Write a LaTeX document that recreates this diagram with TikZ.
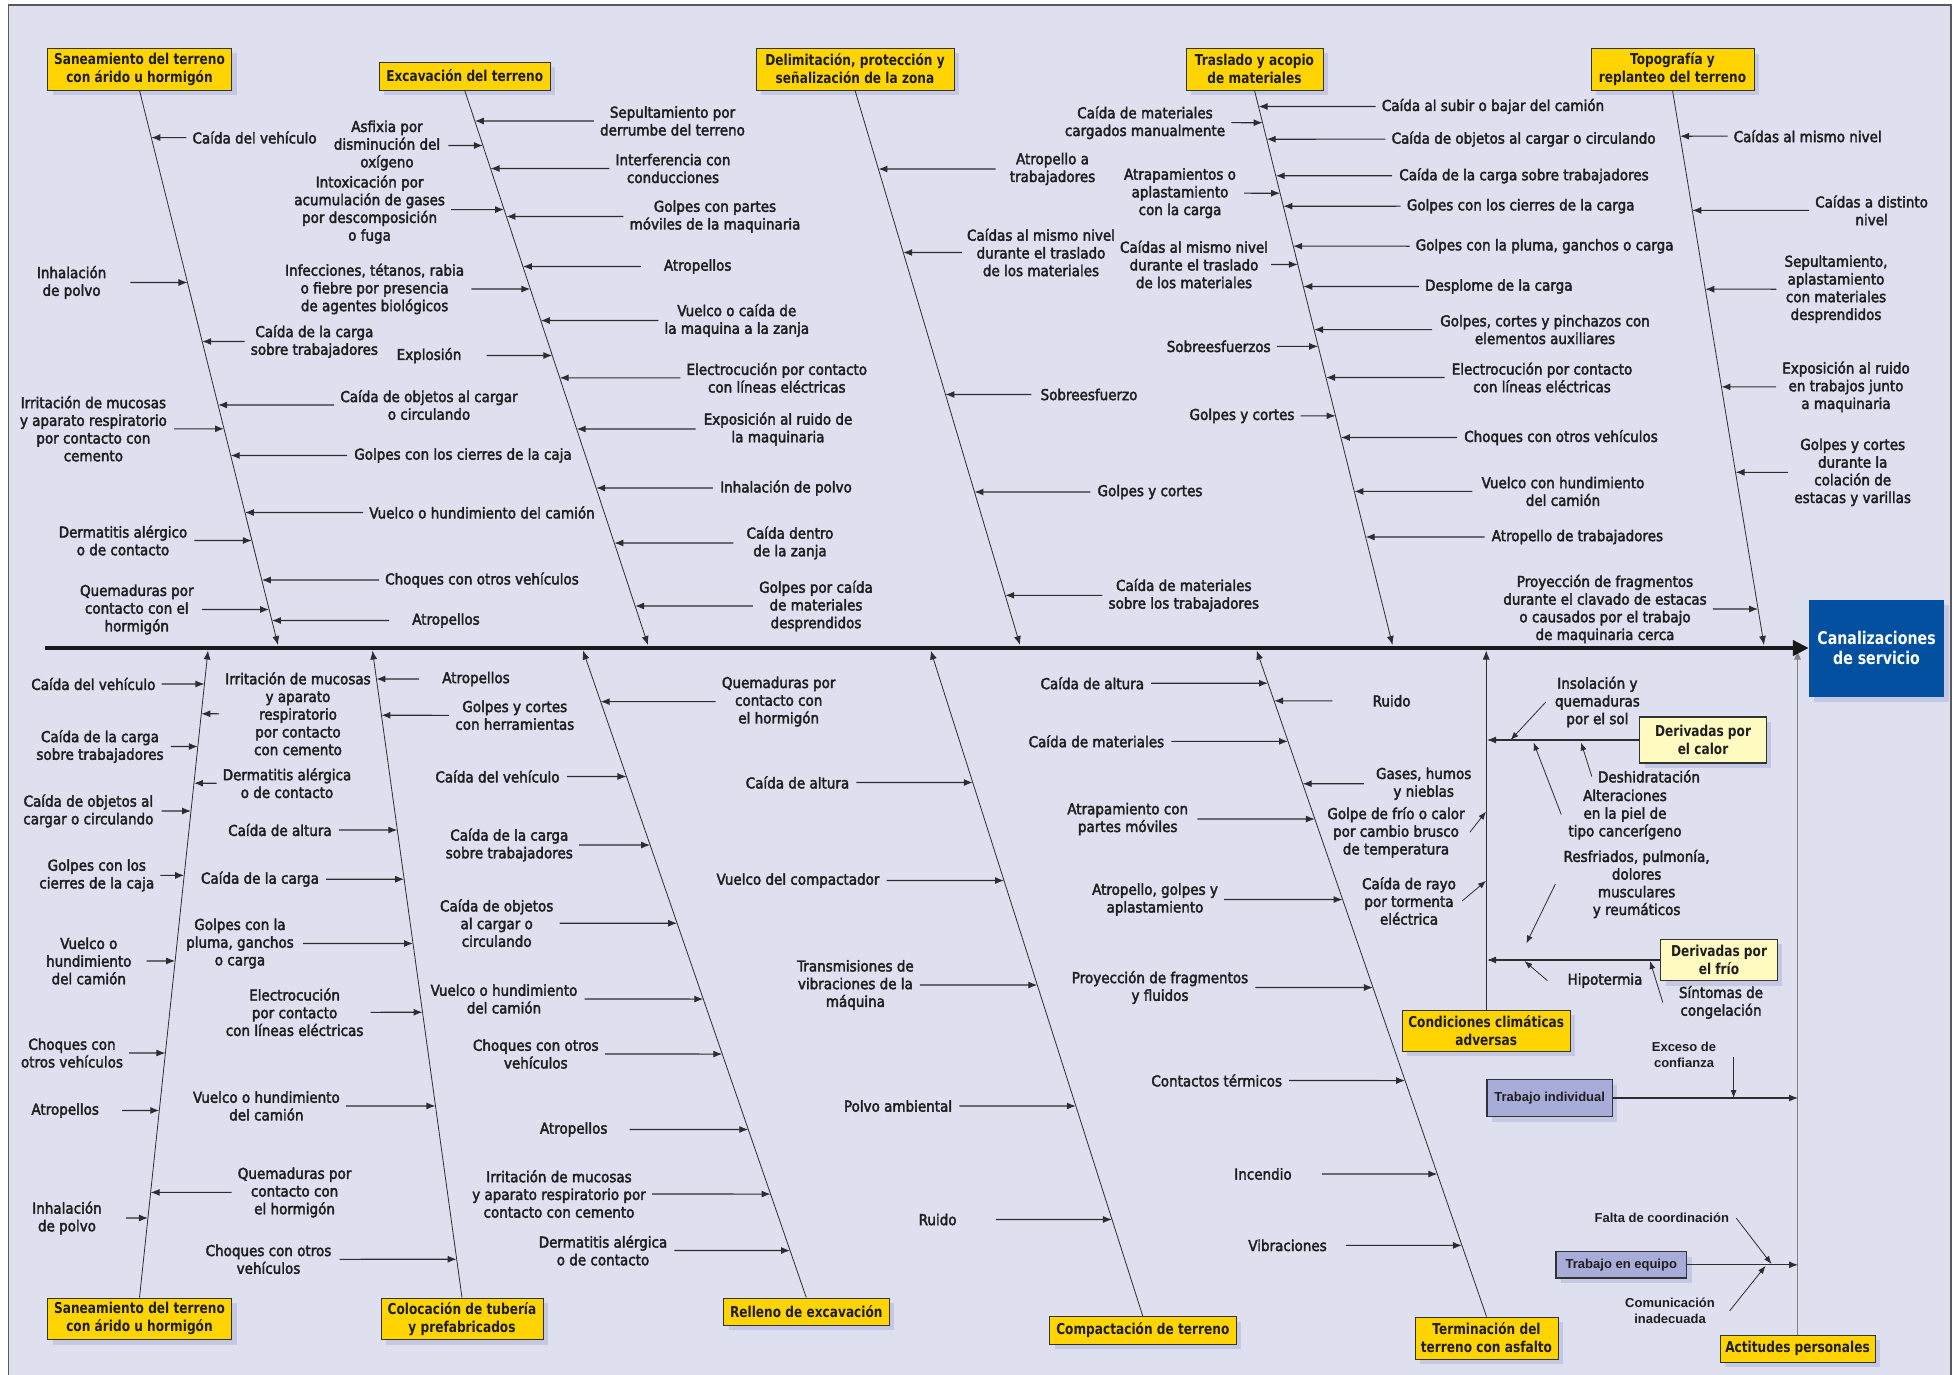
\documentclass[tikz,border=0pt]{standalone}
\usepackage{fontspec}
\setmainfont{DejaVu Sans}[FakeStretch=0.9,FakeBold=2.5]
\newfontfamily\ttlfont{DejaVu Sans}[FakeStretch=0.81]
\newfontfamily\smlfont{Liberation Sans}
\usetikzlibrary{arrows.meta,shadows}
\definecolor{bgc}{RGB}{222,224,240}
\definecolor{yel}{RGB}{255,212,0}
\definecolor{lyel}{RGB}{255,250,192}
\definecolor{lav}{RGB}{168,172,216}
\definecolor{blu}{RGB}{4,80,160}
\definecolor{shd}{RGB}{196,200,228}
\definecolor{txtc}{RGB}{30,30,30}
\definecolor{linec}{RGB}{45,45,45}
\definecolor{framec}{RGB}{90,90,90}
\tikzset{
  lbl/.style={font=\fontsize{15}{17.7}\selectfont, align=center, inner sep=0pt, text=txtc},
  sml/.style={font=\smlfont\bfseries\fontsize{13}{15.8}\selectfont, align=center, inner sep=0pt, text=txtc},
  cau/.style={draw=linec, line width=1.1pt, -{Latex[length=9pt,width=7pt]}},
  thinarr/.style={draw=linec, line width=0.8pt, -{Latex[length=8pt,width=6pt]}},
  bonel/.style={draw=linec, line width=0.8pt, -{Latex[length=9pt,width=7pt]}},
  sombra/.style={general shadow={fill=shd, shadow xshift=5pt, shadow yshift=-5pt}},
  ybox/.style={sombra, draw=black!80, line width=0.8pt, fill=yel, text=txtc, font=\ttlfont\bfseries\fontsize{15}{18}\selectfont, align=center, inner sep=0pt},
  lybox/.style={ybox, fill=lyel, line width=1.2pt},
  pbox/.style={sombra, draw=black!80, line width=1.3pt, fill=lav, text=txtc, font=\smlfont\bfseries\fontsize{13}{15.8}\selectfont, inner sep=0pt},
  bbox/.style={sombra, fill=blu, text=white, font=\ttlfont\bfseries\fontsize{17.5}{20.8}\selectfont, align=center, inner sep=0pt},
  spinel/.style={draw=black!90, line width=4.5pt, -{Triangle[length=16pt,width=15pt]}}
}
\newcommand\causeL[6]{%
  \node[lbl] (#1) at (#2,#3) {#4};
  \draw[cau] ([xshift=-#6pt]#1.west) -- (intersection cs:first line={(#5a)--(#5b)},second line={(#1.west)--(#1.east)});}
\newcommand\causeR[6]{%
  \node[lbl] (#1) at (#2,#3) {#4};
  \draw[cau] ([xshift=#6pt]#1.east) -- (intersection cs:first line={(#5a)--(#5b)},second line={(#1.west)--(#1.east)});}
\begin{document}
\begin{tikzpicture}[x=1pt,y=-1pt]
\useasboundingbox (0,0) rectangle (1959,1375);
\fill[white] (0,0) rectangle (1959,1375);
\filldraw[fill=bgc, draw=framec, line width=1.6pt] (8.5,5) rectangle (1951,1385);

% ---------- category boxes ----------
\node[ybox, minimum width=184pt, minimum height=41.6pt] (t1) at (139.5,69.2) {Saneamiento del terreno\\con árido u hormigón};
\node[ybox, minimum width=171.5pt, minimum height=28pt] (t2) at (464.7,76) {Excavación del terreno};
\node[ybox, minimum width=198pt, minimum height=42pt] (t3) at (855,69) {Delimitación, protección y\\señalización de la zona};
\node[ybox, minimum width=137pt, minimum height=42pt] (t4) at (1254.5,69) {Traslado y acopio\\de materiales};
\node[ybox, minimum width=163pt, minimum height=41.4pt] (t5) at (1672.5,69.3) {Topografía y\\replanteo del terreno};
\node[ybox, minimum width=184pt, minimum height=41.5pt] (u1) at (139.5,1318.8) {Saneamiento del terreno\\con árido u hormigón};
\node[ybox, minimum width=162pt, minimum height=41.5pt] (u2) at (462,1318.8) {Colocación de tubería\\y prefabricados};
\node[ybox, minimum width=165.4pt, minimum height=27pt] (u3) at (806.3,1311.5) {Relleno de excavación};
\node[ybox, minimum width=186.4pt, minimum height=27.5pt] (u4) at (1142.8,1330.3) {Compactación de terreno};
\node[ybox, minimum width=143pt, minimum height=42pt] (u5) at (1486.5,1338) {Terminación del\\terreno con asfalto};
\node[ybox, minimum width=168.5pt, minimum height=41pt] (u6) at (1486.2,1030.5) {Condiciones climáticas\\adversas};
\node[ybox, minimum width=155pt, minimum height=27pt] (u7) at (1797.5,1348.5) {Actitudes personales};
\node[bbox, minimum width=135pt, minimum height=97pt] (blue) at (1876.5,648) {Canalizaciones\\de servicio};

% ---------- bones ----------
\coordinate (T1a) at (t1.south); \coordinate (T1b) at (278,645);
\coordinate (T2a) at (t2.south); \coordinate (T2b) at (648,645);
\coordinate (T3a) at (t3.south); \coordinate (T3b) at (1020,645);
\coordinate (T4a) at (t4.south); \coordinate (T4b) at (1392.5,645);
\coordinate (T5a) at (t5.south); \coordinate (T5b) at (1764,645);
\coordinate (B1a) at (208,650.5); \coordinate (B1b) at (u1.north);
\coordinate (B2a) at (372.5,650.5); \coordinate (B2b) at (u2.north);
\coordinate (B3a) at (583,650.5); \coordinate (B3b) at (u3.north);
\coordinate (B4a) at (930.7,650.5); \coordinate (B4b) at (u4.north);
\coordinate (B5a) at (1256.7,650.5); \coordinate (B5b) at (u5.north);
\coordinate (B6a) at (1487,650.5);
\coordinate (B7a) at (1798,650.5);
\foreach \b in {T1,T2,T3,T4,T5} {\draw[bonel] (\b a) -- (\b b);}
\foreach \b in {B1,B2,B3,B4,B5} {\draw[bonel] (\b b) -- (\b a);}
\draw[bonel] (u6.north) -- (u6.north |- B6a);
\draw[bonel, draw=black!50] (u7.north) -- (u7.north |- B7a);

\coordinate (sp0) at (45,648);
\draw[spinel] (sp0) -- (sp0 -| blue.west);

% ---------- T1 ----------
\causeL{a1}{254.6}{137.6}{Caída del vehículo}{T1}{6}
\causeR{a2}{71.6}{282.5}{Inhalación\\de polvo}{T1}{24}
\causeL{a3}{314.4}{341.5}{Caída de la carga\\sobre trabajadores}{T1}{6}
\causeL{a4}{429}{405}{Caída de objetos al cargar\\o circulando}{T1}{6}
\causeR{a5}{93.4}{428.8}{Irritación de mucosas\\y aparato respiratorio\\por contacto con\\cemento}{T1}{7}
\causeL{a6}{463}{455.5}{Golpes con los cierres de la caja}{T1}{7}
\causeL{a7}{482}{512.5}{Vuelco o hundimiento del camión}{T1}{6}
\causeR{a8}{123}{540.5}{Dermatitis alérgico\\o de contacto}{T1}{7}
\causeL{a9}{482}{580}{Choques con otros vehículos}{T1}{6}
\causeR{a10}{136.8}{609.5}{Quemaduras por\\contacto con el\\hormigón}{T1}{8}
\causeL{a11}{446}{620.5}{Atropellos}{T1}{23}

% ---------- T2 ----------
\causeL{b1}{672.5}{121}{Sepultamiento por\\derrumbe del terreno}{T2}{6}
\causeR{b2}{387}{145.5}{Asfixia por\\disminución del\\oxígeno}{T2}{8}
\causeL{b3}{673}{168.5}{Interferencia con\\conducciones}{T2}{6}
\causeR{b4}{369.6}{209.6}{Intoxicación por\\acumulación de gases\\por descomposición\\o fuga}{T2}{6}
\causeL{b5}{715}{216.5}{Golpes con partes\\móviles de la maquinaria}{T2}{6}
\causeR{b6}{374.6}{289}{Infecciones, tétanos, rabia\\o fiebre por presencia\\de agentes biológicos}{T2}{7}
\causeL{b7}{697.7}{266.5}{Atropellos}{T2}{23}
\causeL{b8}{736.8}{320.5}{Vuelco o caída de\\la maquina a la zanja}{T2}{6}
\causeR{b9}{429}{355.5}{Explosión}{T2}{25}
\causeL{b10}{776.8}{377.8}{Electrocución por contacto\\con líneas eléctricas}{T2}{6}
\causeL{b11}{778}{429}{Exposición al ruido de\\la maquinaria}{T2}{8}
\causeL{b12}{786}{488}{Inhalación de polvo}{T2}{7}
\causeL{b13}{790}{543}{Caída dentro\\de la zanja}{T2}{13}
\causeL{b14}{816}{606}{Golpes por caída\\de materiales\\desprendidos}{T2}{6}

% ---------- T3 ----------
\causeL{c1}{1052.5}{169}{Atropello a\\trabajadores}{T3}{14}
\causeL{c2}{1041}{252.5}{Caídas al mismo nivel\\durante el traslado\\de los materiales}{T3}{5}
\causeL{c3}{1089}{394.5}{Sobreesfuerzo}{T3}{9}
\causeL{c4}{1150}{492}{Golpes y cortes}{T3}{7}
\causeL{c5}{1183.8}{595.3}{Caída de materiales\\sobre los trabajadores}{T3}{6}

% ---------- T4 ----------
\causeL{d1}{1493}{106.5}{Caída al subir o bajar del camión}{T4}{6}
\causeL{d2}{1523.6}{139.2}{Caída de objetos al cargar o circulando}{T4}{6}
\causeL{d3}{1524}{175.8}{Caída de la carga sobre trabajadores}{T4}{7}
\causeL{d4}{1520.7}{206.2}{Golpes con los cierres de la carga}{T4}{6}
\causeL{d5}{1544.6}{246.2}{Golpes con la pluma, ganchos o carga}{T4}{6}
\causeL{d6}{1498.8}{286.5}{Desplome de la carga}{T4}{6}
\causeL{d7}{1545}{329.6}{Golpes, cortes y pinchazos con\\elementos auxiliares}{T4}{8}
\causeL{d8}{1542}{377.5}{Electrocución por contacto\\con líneas eléctricas}{T4}{7}
\causeL{d9}{1561}{437.5}{Choques con otros vehículos}{T4}{7}
\causeL{d10}{1563}{491.4}{Vuelco con hundimiento\\del camión}{T4}{9}
\causeL{d11}{1577.4}{537}{Atropello de trabajadores}{T4}{7}
\causeR{d12}{1145}{122.7}{Caída de materiales\\cargados manualmente}{T4}{6}
\causeR{d13}{1180}{193.2}{Atrapamientos o\\aplastamiento\\con la carga}{T4}{8}
\causeR{d14}{1194}{264.5}{Caídas al mismo nivel\\durante el traslado\\de los materiales}{T4}{3}
\causeR{d15}{1218.7}{346.4}{Sobreesfuerzos}{T4}{6}
\causeR{d16}{1242}{415.8}{Golpes y cortes}{T4}{6}

% ---------- T5 ----------
\causeL{e1}{1807.7}{136.2}{Caídas al mismo nivel}{T5}{6}
\causeL{e2}{1871.6}{210.4}{Caídas a distinto\\nivel}{T5}{6}
\causeL{e3}{1836}{289.2}{Sepultamiento,\\aplastamiento\\con materiales\\desprendidos}{T5}{8}
\causeL{e4}{1846}{386.8}{Exposición al ruido\\en trabajos junto\\a maquinaria}{T5}{6}
\causeL{e5}{1852.7}{472.3}{Golpes y cortes\\durante la\\colación de\\estacas y varillas}{T5}{6}
\causeR{e6}{1605}{609}{Proyección de fragmentos\\durante el clavado de estacas\\o causados por el trabajo\\de maquinaria cerca}{T5}{6}

% ---------- B1 ----------
\causeR{f1}{93.4}{684}{Caída del vehículo}{B1}{6}
\causeR{f2}{100}{746.5}{Caída de la carga\\sobre trabajadores}{B1}{7}
\causeR{f3}{88.4}{811}{Caída de objetos al\\cargar o circulando}{B1}{8}
\causeR{f4}{96.8}{875.4}{Golpes con los\\cierres de la caja}{B1}{6}
\causeR{f5}{88.8}{961}{Vuelco o\\hundimiento\\del camión}{B1}{15}
\causeR{f6}{72}{1053}{Choques con\\otros vehículos}{B1}{6}
\causeR{f7}{65.2}{1110.5}{Atropellos}{B1}{23}
\causeR{f8}{67}{1218}{Inhalación\\de polvo}{B1}{24}
\causeL{f9}{298}{713.8}{Irritación de mucosas\\y aparato\\respiratorio\\por contacto\\con cemento}{B1}{6}
\causeL{f10}{287}{783.2}{Dermatitis alérgica\\o de contacto}{B1}{6}
\causeL{f11}{294.6}{1192.4}{Quemaduras por\\contacto con\\el hormigón}{B1}{6}

% ---------- B2 ----------
\causeL{g1}{476}{679}{Atropellos}{B2}{23}
\causeL{g2}{514.8}{715.3}{Golpes y cortes\\con herramientas}{B2}{6}
\causeR{g3}{280}{830}{Caída de altura}{B2}{7}
\causeR{g4}{260}{879.2}{Caída de la carga}{B2}{7}
\causeR{g5}{240}{943.5}{Golpes con la\\pluma, ganchos\\o carga}{B2}{9}
\causeR{g6}{294.6}{1012.3}{Electrocución\\por contacto\\con líneas eléctricas}{B2}{7}
\causeR{g7}{266.4}{1106}{Vuelco o hundimiento\\del camión}{B2}{6}
\causeR{g8}{268.5}{1259.3}{Choques con otros\\vehículos}{B2}{8}

% ---------- B3 ----------
\causeR{h1}{497.5}{776.5}{Caída del vehículo}{B3}{7}
\causeR{h2}{509.3}{845}{Caída de la carga\\sobre trabajadores}{B3}{6}
\causeR{h3}{496.7}{923.2}{Caída de objetos\\al cargar o\\circulando}{B3}{6}
\causeR{h4}{504}{999}{Vuelco o hundimiento\\del camión}{B3}{7}
\causeR{h5}{535.8}{1054}{Choques con otros\\vehículos}{B3}{6}
\causeR{h6}{573.7}{1129.5}{Atropellos}{B3}{22}
\causeR{h7}{559}{1194}{Irritación de mucosas\\y aparato respiratorio por\\contacto con cemento}{B3}{6}
\causeR{h8}{603}{1250.5}{Dermatitis alérgica\\o de contacto}{B3}{7}
\causeL{h9}{778.7}{701.6}{Quemaduras por\\contacto con\\el hormigón}{B3}{6}

% ---------- B4 ----------
\causeR{i1}{797.5}{782.5}{Caída de altura}{B4}{7}
\causeR{i2}{798}{880.5}{Vuelco del compactador}{B4}{7}
\causeR{i3}{855.4}{985}{Transmisiones de\\vibraciones de la\\máquina}{B4}{6}
\causeR{i4}{898}{1106}{Polvo ambiental}{B4}{7}
\causeR{i5}{937.6}{1219.5}{Ruido}{B4}{39}

% ---------- B5 ----------
\causeR{j1}{1092.3}{683.2}{Caída de altura}{B5}{7}
\causeR{j2}{1096.4}{741.3}{Caída de materiales}{B5}{7}
\causeR{j3}{1127.7}{819}{Atrapamiento con\\partes móviles}{B5}{9}
\causeR{j4}{1155}{899.5}{Atropello, golpes y\\aplastamiento}{B5}{6}
\causeR{j5}{1160}{987.5}{Proyección de fragmentos\\y fluidos}{B5}{7}
\causeR{j6}{1216.7}{1080.5}{Contactos térmicos}{B5}{7}
\causeR{j7}{1263}{1174}{Incendio}{B5}{30}
\causeR{j8}{1287.5}{1245.4}{Vibraciones}{B5}{19}
\causeL{j9}{1391.6}{700.8}{Ruido}{B5}{40}
\causeL{j10}{1423.7}{783.7}{Gases, humos\\y nieblas}{B5}{12}

% ---------- B6: condiciones climaticas ----------
\node[lbl] (k1) at (1396,832.3) {Golpe de frío o calor\\por cambio brusco\\de temperatura};
\draw[thinarr] ([xshift=5pt]k1.east) -- (1486,811.6);
\node[lbl] (k2) at (1409,901) {Caída de rayo\\por tormenta\\eléctrica};
\draw[thinarr] ([xshift=6pt]k2.east) -- (1486,880.8);
\node[lybox, minimum width=126.4pt, minimum height=46pt] (cal) at (1703,740) {Derivadas por\\el calor};
\draw[cau] (cal.west) -- (cal.west -| B6a);
\node[lbl] (k3) at (1597.4,702) {Insolación y\\quemaduras\\por el sol};
\draw[thinarr] ([xshift=-9pt]k3.west) -- (1510.6,740);
\node[lbl] (k4) at (1649,776.5) {Deshidratación};
\draw[thinarr] ([xshift=-6pt]k4.west) -- (1581,742.4);
\node[lbl] (k5) at (1625,814.5) {Alteraciones\\en la piel de\\tipo cancerígeno};
\draw[thinarr] ([xshift=-7pt]k5.west) -- (1533.5,742.4);
\node[lybox, minimum width=116.4pt, minimum height=41.6pt] (fri) at (1719,960) {Derivadas por\\el frío};
\draw[cau] (fri.west) -- (fri.west -| B6a);
\node[lbl] (k6) at (1636.6,884) {Resfriados, pulmonía,\\dolores\\musculares\\y reumáticos};
\draw[thinarr] ([xshift=-8pt]k6.west) -- (1526.3,943.5);
\node[lbl] (k7) at (1605,980.6) {Hipotermia};
\draw[thinarr] ([xshift=-20pt]k7.west) -- (1524.4,961);
\node[lbl] (k8) at (1721,1002.4) {Síntomas de\\congelación};
\draw[thinarr] ([xshift=-16pt]k8.west) -- (1650,961);

% ---------- B7: actitudes personales ----------
\node[pbox, minimum width=125.4pt, minimum height=37pt] (tin) at (1549.7,1098) {Trabajo individual};
\draw[cau] (tin.east) -- (tin.east -| B7a);
\node[sml] (k9) at (1684,1055) {Exceso de\\confianza};
\coordinate (ex) at (1733.6,1057);
\draw[thinarr] (ex) -- (ex |- tin.east);
\node[pbox, minimum width=130.6pt, minimum height=26.5pt] (teq) at (1621.3,1264.8) {Trabajo en equipo};
\draw[cau] (teq.east) -- (teq.east -| B7a);
\node[sml] (k10) at (1661.8,1218) {Falta de coordinación};
\draw[thinarr] ([xshift=7pt]k10.east) -- (1771.5,1264);
\node[sml] (k11) at (1670,1310.8) {Comunicación\\inadecuada};
\draw[thinarr] ([xshift=14.7pt]k11.east) -- (1765.6,1265.8);
\end{tikzpicture}
\end{document}
